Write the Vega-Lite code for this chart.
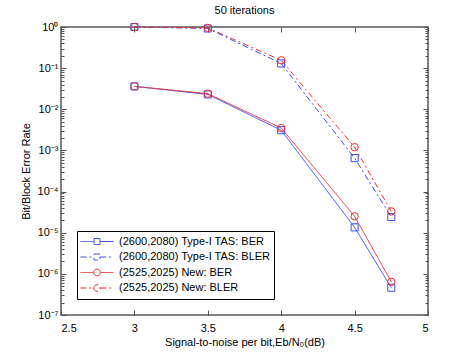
{
  "$schema": "https://vega.github.io/schema/vega-lite/v6.json",
  "width": 367,
  "height": 288,
  "autosize": {"type": "none"},
  "padding": {"left": 61, "top": 27, "right": 46, "bottom": 40},
  "title": {"text": "50 iterations", "fontSize": 11, "fontWeight": "normal", "font": "Liberation Sans", "color": "#000", "offset": 5},
  "config": {
    "view": {"stroke": "#555", "strokeWidth": 1.5},
    "font": "Liberation Sans",
    "axis": {"grid": false, "domain": false, "labelFont": "Liberation Sans", "labelFontSize": 11, "labelColor": "#000", "titleFont": "Liberation Sans", "titleFontSize": 11, "titleFontWeight": "normal", "titleColor": "#000", "tickColor": "#555", "tickWidth": 1, "labelOverlap": false}
  },
  "data": {"values": [
    {"snr": 3, "rate": 0.036, "series": "(2600,2080) Type-I TAS: BER"},
    {"snr": 3.5, "rate": 0.023, "series": "(2600,2080) Type-I TAS: BER"},
    {"snr": 4, "rate": 0.0031, "series": "(2600,2080) Type-I TAS: BER"},
    {"snr": 4.5, "rate": 1.35e-5, "series": "(2600,2080) Type-I TAS: BER"},
    {"snr": 4.75, "rate": 4.6e-7, "series": "(2600,2080) Type-I TAS: BER"},
    {"snr": 3, "rate": 1.0, "series": "(2600,2080) Type-I TAS: BLER"},
    {"snr": 3.5, "rate": 0.92, "series": "(2600,2080) Type-I TAS: BLER"},
    {"snr": 4, "rate": 0.13, "series": "(2600,2080) Type-I TAS: BLER"},
    {"snr": 4.5, "rate": 6.5e-4, "series": "(2600,2080) Type-I TAS: BLER"},
    {"snr": 4.75, "rate": 2.4e-5, "series": "(2600,2080) Type-I TAS: BLER"},
    {"snr": 3, "rate": 0.036, "series": "(2525,2025) New: BER"},
    {"snr": 3.5, "rate": 0.024, "series": "(2525,2025) New: BER"},
    {"snr": 4, "rate": 0.0035, "series": "(2525,2025) New: BER"},
    {"snr": 4.5, "rate": 2.5e-5, "series": "(2525,2025) New: BER"},
    {"snr": 4.75, "rate": 6.4e-7, "series": "(2525,2025) New: BER"},
    {"snr": 3, "rate": 1.0, "series": "(2525,2025) New: BLER"},
    {"snr": 3.5, "rate": 0.95, "series": "(2525,2025) New: BLER"},
    {"snr": 4, "rate": 0.155, "series": "(2525,2025) New: BLER"},
    {"snr": 4.5, "rate": 1.2e-3, "series": "(2525,2025) New: BLER"},
    {"snr": 4.75, "rate": 3.3e-5, "series": "(2525,2025) New: BLER"}
  ]},
  "layer": [
    {
      "mark": {"type": "line", "strokeWidth": 1},
      "encoding": {
        "x": {"field": "snr", "type": "quantitative", "scale": {"domain": [2.5, 5], "nice": false, "zero": false},
              "axis": {"orient": "bottom", "values": [2.5, 3, 3.5, 4, 4.5, 5], "format": "~g", "tickSize": -5, "labelPadding": 12, "title": "Signal-to-noise per bit,Eb/N₀(dB)", "titlePadding": 3}},
        "y": {"field": "rate", "type": "quantitative", "scale": {"type": "log", "domain": [1e-7, 1], "nice": false},
              "axis": {"orient": "left",
                       "values": [1e-7,2e-7,3e-7,4e-7,5e-7,6e-7,7e-7,8e-7,9e-7,1e-6,2e-6,3e-6,4e-6,5e-6,6e-6,7e-6,8e-6,9e-6,1e-5,2e-5,3e-5,4e-5,5e-5,6e-5,7e-5,8e-5,9e-5,1e-4,2e-4,3e-4,4e-4,5e-4,6e-4,7e-4,8e-4,9e-4,0.001,0.002,0.003,0.004,0.005,0.006,0.007,0.008,0.009,0.01,0.02,0.03,0.04,0.05,0.06,0.07,0.08,0.09,0.1,0.2,0.3,0.4,0.5,0.6,0.7,0.8,0.9,1],
                       "labelExpr": "abs(log(datum.value)/LN10 - round(log(datum.value)/LN10)) < 0.001 ? '10' + ['⁰','⁻¹','⁻²','⁻³','⁻⁴','⁻⁵','⁻⁶','⁻⁷'][-round(log(datum.value)/LN10)] : ''",
                       "tickSize": {"condition": {"test": "abs(log(datum.value)/LN10 - round(log(datum.value)/LN10)) < 0.001", "value": -5}, "value": -3},
                       "labelPadding": 8, "title": "Bit/Block Error Rate", "titlePadding": 6}},
        "color": {"field": "series", "type": "nominal", "sort": null,
                  "scale": {"domain": ["(2600,2080) Type-I TAS: BER", "(2600,2080) Type-I TAS: BLER", "(2525,2025) New: BER", "(2525,2025) New: BLER"], "range": ["#3a4cf0", "#3a4cf0", "#ee2e2e", "#ee2e2e"]},
                  "legend": {"title": null, "orient": "bottom-left", "offset": 16, "padding": 3, "strokeColor": "#000", "fillColor": "#fff",
                             "labelFontSize": 11, "labelColor": "#000", "labelFont": "Liberation Sans", "labelLimit": 300,
                             "symbolSize": 1089, "symbolStrokeWidth": 1, "symbolOpacity": 1, "symbolFillColor": "transparent", "clipHeight": 15, "rowPadding": 0.5, "labelOffset": 5}},
        "strokeDash": {"field": "series", "type": "nominal", "sort": null,
                       "scale": {"domain": ["(2600,2080) Type-I TAS: BER", "(2600,2080) Type-I TAS: BLER", "(2525,2025) New: BER", "(2525,2025) New: BLER"], "range": [[1, 0], [6, 3, 2, 3], [1, 0], [6, 3, 2, 3]]}}
      }
    },
    {
      "transform": [{"filter": "indexof(datum.series, 'Type-I') >= 0"}],
      "mark": {"type": "point", "shape": "square", "filled": false, "size": 50, "strokeWidth": 1, "opacity": 1},
      "encoding": {
        "x": {"field": "snr", "type": "quantitative", "axis": null},
        "y": {"field": "rate", "type": "quantitative", "axis": null},
        "color": {"field": "series", "type": "nominal", "sort": null}
      }
    },
    {
      "transform": [{"filter": "indexof(datum.series, 'New') >= 0"}],
      "mark": {"type": "point", "shape": "circle", "filled": false, "size": 55, "strokeWidth": 1, "opacity": 1},
      "encoding": {
        "x": {"field": "snr", "type": "quantitative", "axis": null},
        "y": {"field": "rate", "type": "quantitative", "axis": null},
        "color": {"field": "series", "type": "nominal", "sort": null}
      }
    },
    {
      "transform": [{"filter": "false"}],
      "mark": {"type": "point", "filled": false, "strokeWidth": 1, "opacity": 1},
      "encoding": {
        "x": {"field": "snr", "type": "quantitative", "axis": {"orient": "top", "values": [2.5, 3, 3.5, 4, 4.5, 5], "labels": false, "tickSize": -5, "title": null}},
        "y": {"field": "rate", "type": "quantitative",
              "axis": {"orient": "right", "labels": false, "title": null,
                       "values": [1e-7,2e-7,3e-7,4e-7,5e-7,6e-7,7e-7,8e-7,9e-7,1e-6,2e-6,3e-6,4e-6,5e-6,6e-6,7e-6,8e-6,9e-6,1e-5,2e-5,3e-5,4e-5,5e-5,6e-5,7e-5,8e-5,9e-5,1e-4,2e-4,3e-4,4e-4,5e-4,6e-4,7e-4,8e-4,9e-4,0.001,0.002,0.003,0.004,0.005,0.006,0.007,0.008,0.009,0.01,0.02,0.03,0.04,0.05,0.06,0.07,0.08,0.09,0.1,0.2,0.3,0.4,0.5,0.6,0.7,0.8,0.9,1],
                       "tickSize": {"condition": {"test": "abs(log(datum.value)/LN10 - round(log(datum.value)/LN10)) < 0.001", "value": -5}, "value": -3}}},
        "color": {"field": "series", "type": "nominal", "sort": null},
        "shape": {"field": "series", "type": "nominal", "sort": null,
                  "scale": {"domain": ["(2600,2080) Type-I TAS: BER", "(2600,2080) Type-I TAS: BLER", "(2525,2025) New: BER", "(2525,2025) New: BLER"],
                            "range": ["M-1,0H-0.18M0.18,0H1M-0.18,-0.18H0.18V0.18H-0.18Z", "M-1,0H-0.18M0.18,0H1M-0.18,-0.18H0.18V0.18H-0.18Z", "M-1,0H-0.2M0.2,0H1M-0.2,0A0.2,0.2 0 1,0 0.2,0A0.2,0.2 0 1,0 -0.2,0", "M-1,0H-0.2M0.2,0H1M-0.2,0A0.2,0.2 0 1,0 0.2,0A0.2,0.2 0 1,0 -0.2,0"]}}
      }
    }
  ],
  "resolve": {"axis": {"x": "independent", "y": "independent"}}
}
